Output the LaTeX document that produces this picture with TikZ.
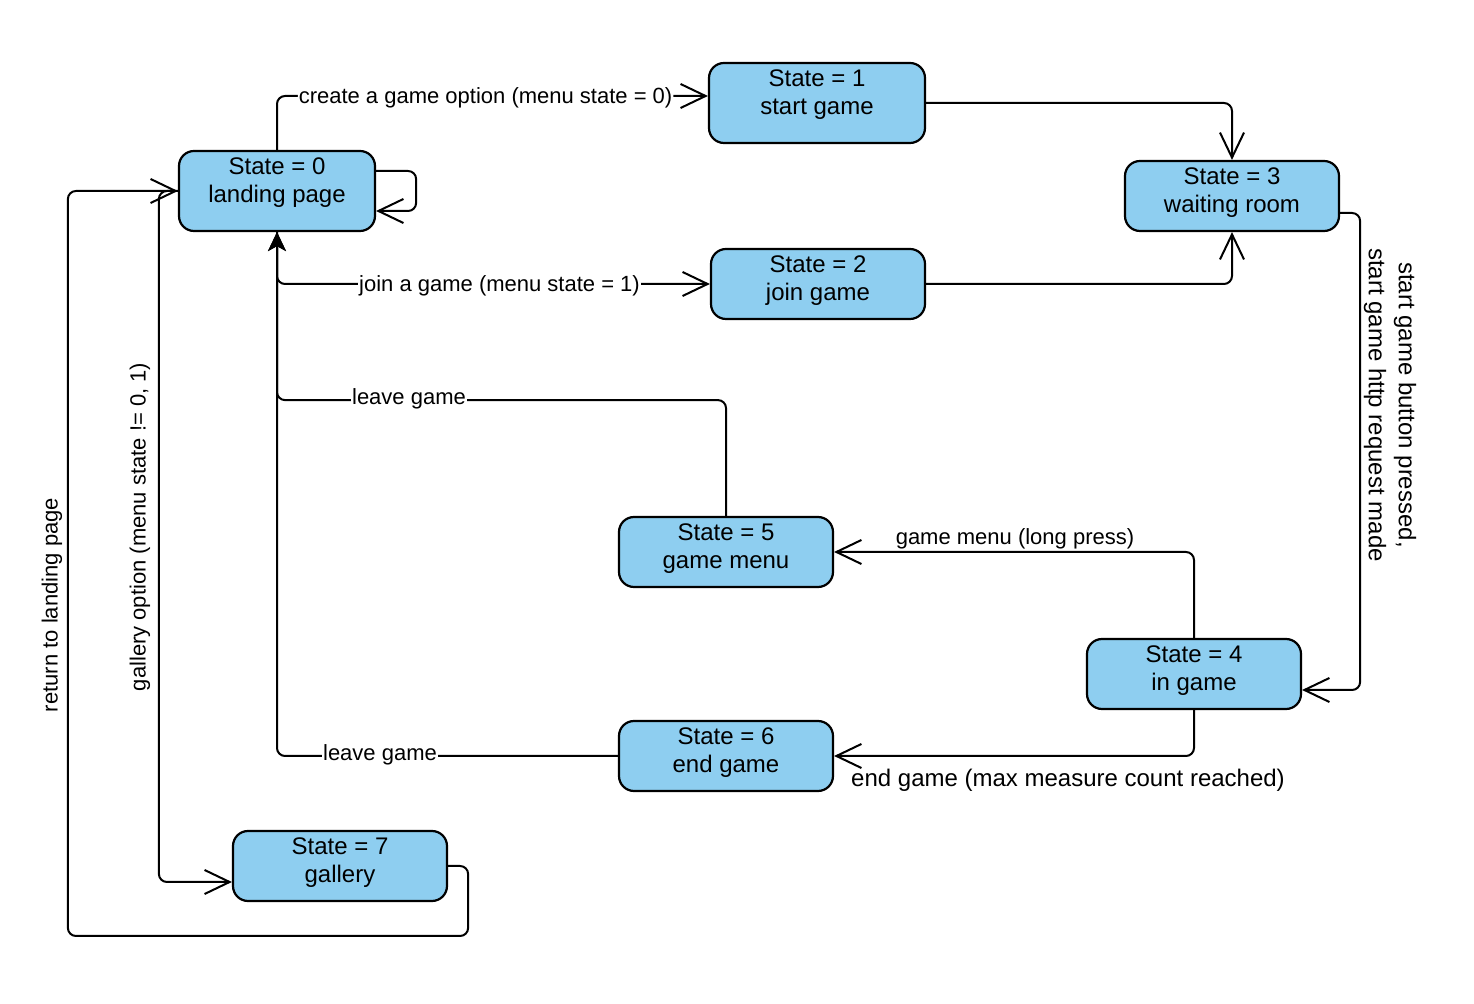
\documentclass[tikz,border=0pt]{standalone}
\usepackage{fontspec}
\setmainfont{Liberation Sans}
\usetikzlibrary{arrows.meta}
\definecolor{statefill}{HTML}{8ECEF0}

\begin{document}
\begin{tikzpicture}[x=0.5pt,y=-0.5pt,
  statebox/.style={draw=black, line width=1.1pt, fill=statefill, rounded corners=7.5pt,
    minimum width=107pt, minimum height=35pt, inner sep=0pt},
  statetext/.style={anchor=north, align=center, inner sep=0pt, font=\fontsize{12}{14}\selectfont},
  flow/.style={draw=black, line width=1pt, rounded corners=4pt,
    -{Straight Barb[length=12.5pt,width=12pt]}},
  back/.style={draw=black, line width=1pt, rounded corners=4pt,
    -{Stealth[length=9.5pt,width=9pt,inset=2.5pt]}},
  lbl/.style={font=\fontsize{11}{13}\selectfont, inner sep=0.5pt, fill=white},
  plainlbl/.style={font=\fontsize{11}{13}\selectfont, inner sep=0pt},
  biglbl/.style={font=\fontsize{12}{15}\selectfont, inner sep=0pt, align=center}]

\useasboundingbox (0,0) rectangle (1474,1004);

% states
\node[statebox, minimum width=98pt, minimum height=40pt] (s0) at (277,191) {};
\node[statebox, minimum width=108pt, minimum height=40pt] (s1) at (817,103) {};
\node[statebox] (s2) at (818,284) {};
\node[statebox] (s3) at (1232,196) {};
\node[statebox] (s4) at (1194,674) {};
\node[statebox] (s5) at (726,552) {};
\node[statebox] (s6) at (726,756) {};
\node[statebox] (s7) at (340,866) {};

\node[statetext] (t0) at ([yshift=-3.9pt]s0.north) {State = 0\\landing page};
\node[statetext] (t1) at ([yshift=-3.9pt]s1.north) {State = 1\\start game};
\node[statetext] (t2) at ([yshift=-3.9pt]s2.north) {State = 2\\join game};
\node[statetext] (t3) at ([yshift=-3.9pt]s3.north) {State = 3\\waiting room};
\node[statetext] (t4) at ([yshift=-3.9pt]s4.north) {State = 4\\in game};
\node[statetext] (t5) at ([yshift=-3.9pt]s5.north) {State = 5\\game menu};
\node[statetext] (t6) at ([yshift=-3.9pt]s6.north) {State = 6\\end game};
\node[statetext] (t7) at ([yshift=-3.9pt]s7.north) {State = 7\\gallery};

% transitions out of the landing page
\draw[flow] (s0.north) |- node[lbl, pos=0.742, yshift=-1pt] (l1) {create a game option (menu state = 0)}
  ([yshift=3.5pt]s1.west);
\draw[flow] ([yshift=10pt]s0.east) -- ++(40,0) |- ([yshift=-10pt]s0.east);
\draw[flow] (s0.south) |- node[lbl, pos=0.757, yshift=-1pt] (l2) {join a game (menu state = 1)} (s2.west);
\draw[flow] (s0.west) -- ++(-19,0) |- ([yshift=-8pt]s7.west);
\node[plainlbl, rotate=90] (l8) at (140,527) {gallery option (menu state != 0, 1)};

% into the waiting room and the game
\draw[flow] (s1.east) -| (s3.north);
\draw[flow] (s2.east) -| (s3.south);
\draw[flow] ([yshift=-8.5pt]s3.east) -- ++(20,0) |- ([yshift=-8pt]s4.east);
\node[biglbl, rotate=-90] (l3) at (1390,405) {start game button pressed,\\start game http request made};

% leaving the game
\draw[flow] (s4.north) |- (s5.east);
\node[plainlbl] (l4) at (1015,539) {game menu (long press)};
\draw[flow] (s4.south) |- (s6.east);
\node[biglbl] (l5) at (1068,780) {end game (max measure count reached)};

\draw[back] (s5.north) |- ([yshift=-84pt]s0.south) -- (s0.south);
\node[lbl] (l6) at (409,399) {leave game};
\draw[back] (s6.west) -| (s0.south);
\node[lbl] (l7) at (380,755) {leave game};

% back from the gallery
\draw[flow] (s7.east) -- ++(20,0) -- ++(0,70) -| ([xshift=-55pt]s0.west) -- (s0.west);
\node[plainlbl, rotate=90] (l9) at (52,605) {return to landing page};

\end{tikzpicture}
\end{document}
